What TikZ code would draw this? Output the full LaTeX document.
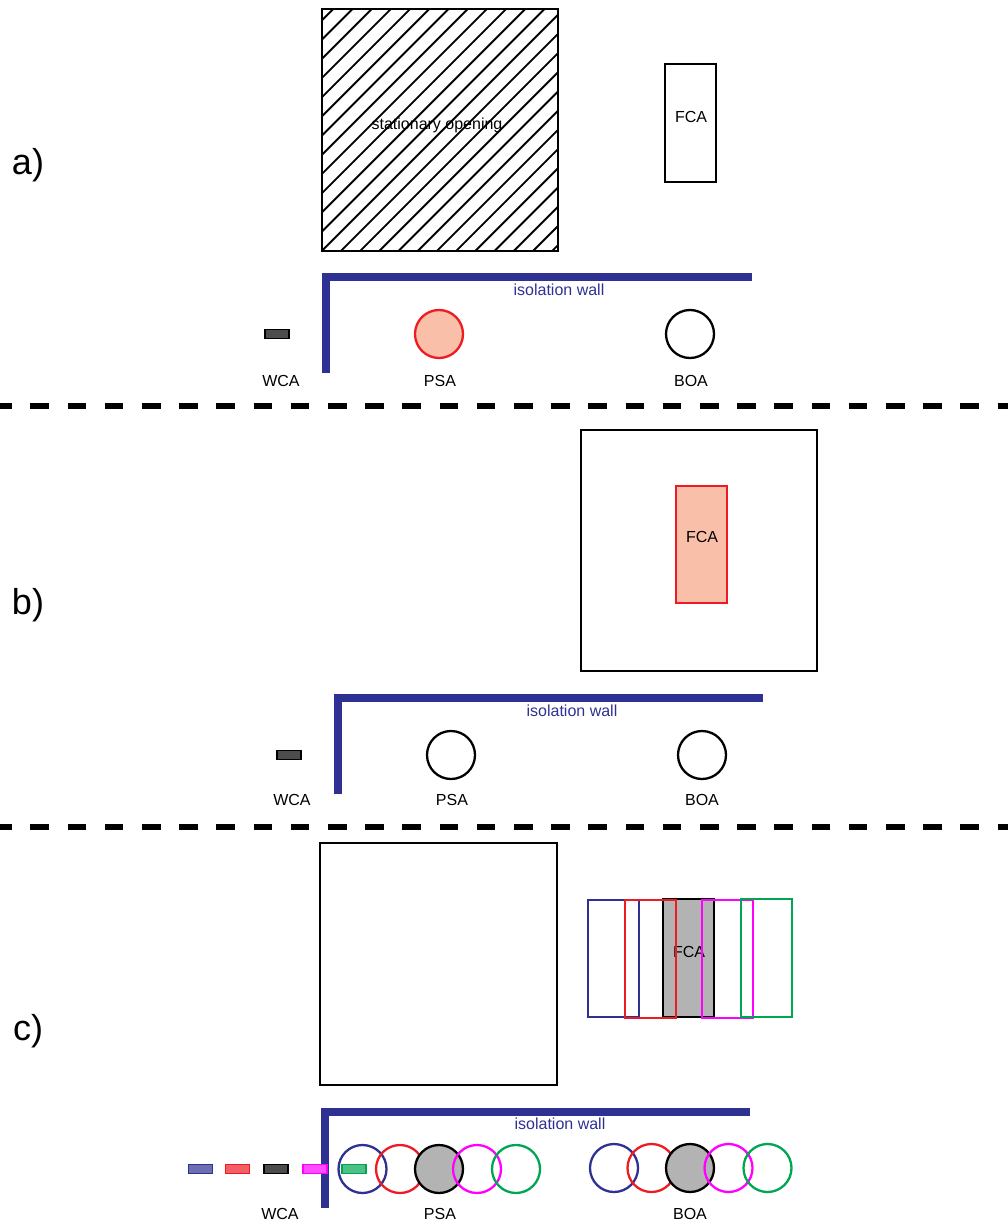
\documentclass[tikz,border=0pt]{standalone}
\usepackage{fontspec}
\setmainfont{Liberation Sans}
\definecolor{wallblue}{RGB}{46,49,146}
\definecolor{cred}{RGB}{237,28,36}
\definecolor{salmon}{RGB}{249,191,168}
\definecolor{cmag}{RGB}{255,0,255}
\definecolor{cgreen}{RGB}{0,166,81}
\definecolor{cgray}{RGB}{179,179,179}
\begin{document}
\begin{tikzpicture}[x=1pt,y=1pt,
  lbl/.style={font=\fontsize{16}{19}\selectfont, inner sep=0pt},
  wlbl/.style={lbl, text=wallblue},
  panel/.style={font=\fontsize{36}{40}\selectfont, inner sep=0pt},
  wall/.style={draw=wallblue, line width=7.5pt, line join=miter},
  sep/.style={line width=6pt, dash pattern=on 18.5pt off 18.7pt, dash phase=6.8pt},
  box/.style={draw=black, line width=2.4pt},
  disk/.style={line width=2.3pt},
  wca/.style={line width=1.6pt},
  cbox/.style={line width=2.3pt}]
\useasboundingbox (0,0) rectangle (1008,-1222);

% ---------------- panel a ----------------
\node[panel] (la) at (28,-165) {a)};
\begin{scope}
  \clip (322,-9) rectangle (558,-251);
  \foreach \k in {0,...,25}{
    \draw[line width=1.9pt] ({91.3+\k*19.2},-251) -- ({333.3+\k*19.2},-9);
  }
\end{scope}
\draw[box] (322,-9) rectangle (558,-251);
\node[lbl] (so) at (437,-125) {stationary opening};
\draw[box] (665,-64) rectangle (716,-182);
\node[lbl] (fcaa) at (691,-117) {FCA};
\draw[wall] (326,-373) -- (326,-277) -- (752,-277);
\node[wlbl] (iwa) at (559,-290) {isolation wall};
\draw[wca, fill=black!70] (265,-329.5) rectangle (289,-338.5);
\draw[disk, draw=cred, fill=salmon] (439,-334) circle (24);
\draw[disk] (690,-334) circle (24);
\node[lbl] (wcaa) at (281,-381) {WCA};
\node[lbl] (psaa) at (440,-381) {PSA};
\node[lbl] (boaa) at (691,-381) {BOA};

\coordinate (s1l) at (0,-406);
\coordinate (s1r) at (1008,-406);
\draw[sep] (s1l) -- (s1r);

% ---------------- panel b ----------------
\node[panel] (lb) at (28,-605) {b)};
\draw[box] (581,-430) rectangle (817,-671);
\draw[cbox, draw=cred, fill=salmon] (676,-486) rectangle (727,-603);
\node[lbl] (fcab) at (702,-537) {FCA};
\draw[wall] (338,-794) -- (338,-698) -- (763,-698);
\node[wlbl] (iwb) at (572,-711) {isolation wall};
\draw[wca, fill=black!70] (277,-750.5) rectangle (301,-759.5);
\draw[disk] (451,-755) circle (24);
\draw[disk] (702,-755) circle (24);
\node[lbl] (wcab) at (292,-800) {WCA};
\node[lbl] (psab) at (452,-800) {PSA};
\node[lbl] (boab) at (702,-800) {BOA};

\coordinate (s2l) at (0,-827);
\coordinate (s2r) at (1008,-827);
\draw[sep] (s2l) -- (s2r);

% ---------------- panel c ----------------
\node[panel] (lc) at (28,-1031) {c)};
\draw[box] (320,-843) rectangle (557,-1085);
\draw[cbox, fill=cgray] (663,-899) rectangle (714,-1017);
\node[lbl] (fcac) at (689,-952) {FCA};
\draw[cbox, draw=wallblue] (588,-900) rectangle (639,-1017);
\draw[cbox, draw=cred] (625,-900) rectangle (676,-1018);
\draw[cbox, draw=cmag] (702,-900) rectangle (753,-1018);
\draw[cbox, draw=cgreen] (741,-899) rectangle (792,-1017);
\draw[wall] (325,-1208) -- (325,-1112) -- (750,-1112);
\node[wlbl] (iwc) at (560,-1124) {isolation wall};
\foreach \x/\c in {200.5/wallblue, 237.5/cred, 276/black, 315/cmag, 354/cgreen}{
  \draw[wca, draw=\c, fill=\c!70!white] ({\x-12},-1164.5) rectangle ({\x+12},-1173.5);
}
\draw[disk, draw=wallblue] (362.5,-1169) circle (24);
\draw[disk, draw=cred] (400,-1169) circle (24);
\draw[disk, fill=cgray] (439,-1169) circle (24);
\draw[disk, draw=cmag] (477,-1169) circle (24);
\draw[disk, draw=cgreen] (516,-1169) circle (24);
\draw[disk, draw=wallblue] (614,-1168) circle (24);
\draw[disk, draw=cred] (651.5,-1168) circle (24);
\draw[disk, fill=cgray] (690,-1168) circle (24);
\draw[disk, draw=cmag] (728.5,-1168) circle (24);
\draw[disk, draw=cgreen] (767.5,-1168) circle (24);
\node[lbl] (wcac) at (280,-1214) {WCA};
\node[lbl] (psac) at (440,-1214) {PSA};
\node[lbl] (boac) at (690,-1214) {BOA};
\end{tikzpicture}
\end{document}
